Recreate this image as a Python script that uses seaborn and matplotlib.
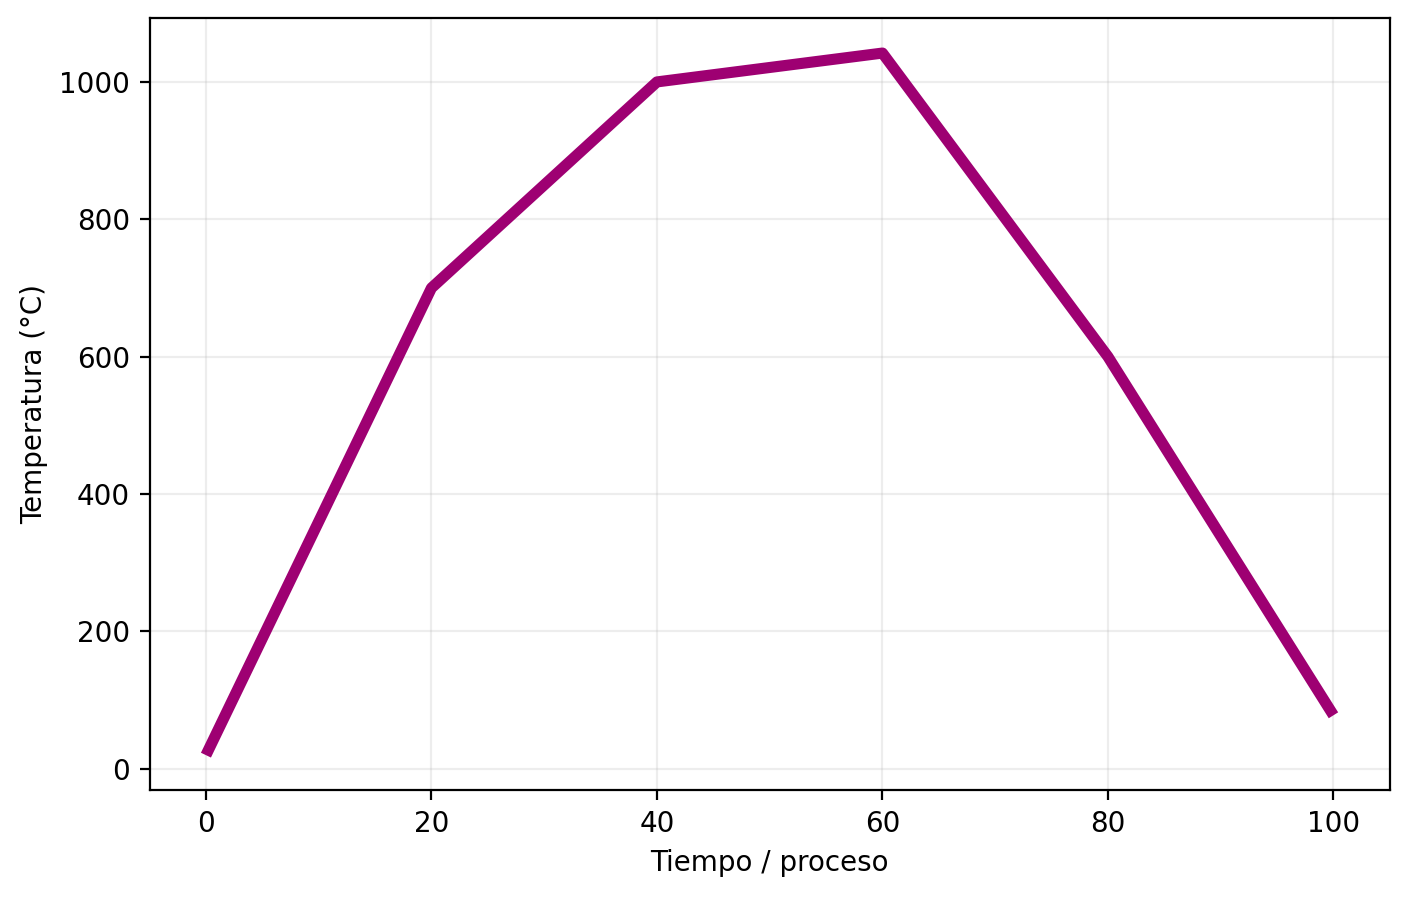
import matplotlib
matplotlib.use("Agg")
import matplotlib.pyplot as plt
import seaborn as sns
import pandas as pd

# Heat treatment profile
tiempo = [0, 20, 40, 60, 80, 100]
temperatura = [20, 700, 1000, 1042, 600, 78]

df = pd.DataFrame({"Tiempo": tiempo, "Temperatura": temperatura})

plt.rcParams["font.family"] = ["DejaVu Sans"]
plt.rcParams["lines.solid_capstyle"] = "butt"

fig, ax = plt.subplots(figsize=(7.055, 4.49), dpi=200)
sns.lineplot(data=df, x="Tiempo", y="Temperatura", color="#9e0072", linewidth=4, ax=ax)
ax.grid(True, alpha=0.22)
ax.set_xlabel("Tiempo / proceso")
ax.set_ylabel("Temperatura (°C)")
fig.subplots_adjust(left=0.106, right=0.985, top=0.980, bottom=0.120)
fig.savefig("out.png", dpi=200)
